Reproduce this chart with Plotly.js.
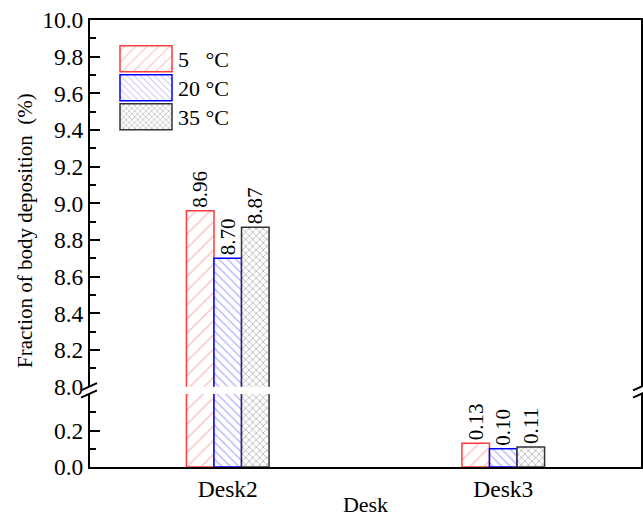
<!DOCTYPE html>
<html>
<head>
<meta charset="utf-8">
<script src="https://cdn.plot.ly/plotly-3.0.1.min.js"></script>
<style>
  html, body { margin: 0; padding: 0; background: #fff; }
  #chart { width: 643px; height: 517px; }
</style>
</head>
<body>
<div id="chart"></div>
<script>
// Fraction of body deposition per desk at three air temperatures
const desks = ['Desk2', 'Desk3'];
const seriesNames = ['5\u00a0\u00a0\u00a0°C', '20 °C', '35 °C'];
const temp5 = [8.96, 0.13];
const temp20 = [8.70, 0.10];
const temp35 = [8.87, 0.11];

const lowerTicks = [0, 0.2];
const lowerMinor = [0.1, 0.3];

const FONT = 'Liberation Serif, Times New Roman, serif';

// visual style per series (outline + hatch)
const styles = [
  { line: '#ff3b3b', fg: '#ffb8b8', shape: '/', size: 10, solidity: 0.12 },
  { line: '#0000ff', fg: '#b0b0ff', shape: '\\', size: 6, solidity: 0.2 },
  { line: '#333333', fg: '#8a8a8a', shape: 'x', size: 5, solidity: 0.2 }
];
const values = [temp5, temp20, temp35];

// broken axis: lower segment 0–0.4, upper segment 8–10
const BREAK_LOW = 0.4;
const BREAK_HIGH = 8;

const traces = [];
values.forEach((vals, i) => {
  const st = styles[i];
  const marker = {
    color: '#ffffff',
    line: { color: st.line, width: 1.5 },
    pattern: { shape: st.shape, fgcolor: st.fg, bgcolor: '#ffffff', size: st.size, solidity: st.solidity }
  };
  // lower segment
  traces.push({
    type: 'bar', x: desks, y: vals, xaxis: 'x', yaxis: 'y',
    name: seriesNames[i], showlegend: false, legendgroup: 'g' + i,
    marker: marker,
    text: vals.map(v => v <= BREAK_LOW ? v.toFixed(2) : ''),
    textposition: 'outside', textangle: -90, constraintext: 'none', cliponaxis: false,
    textfont: { family: FONT, size: 21, color: '#000' },
    hoverinfo: 'skip'
  });
  // upper segment
  traces.push({
    type: 'bar', x: desks, y: vals, xaxis: 'x2', yaxis: 'y2',
    name: seriesNames[i], showlegend: true, legendgroup: 'g' + i,
    marker: marker,
    text: vals.map(v => v >= BREAK_HIGH ? v.toFixed(2) : ''),
    textposition: 'outside', textangle: -90, constraintext: 'none', cliponaxis: false,
    textfont: { family: FONT, size: 21, color: '#000' },
    hoverinfo: 'skip'
  });
});

// plot area in pixels: left 90, right 641, top 20, bottom 467
const L = 90, R = 641, T = 20, B = 467;
const px = x => (x - L) / (R - L);
const py = y => (B - y) / (B - T);

const lowerTop = py(394);
const upperBottom = py(386.7);

function slash(cx, cy) {
  return {
    type: 'line', xref: 'paper', yref: 'paper', layer: 'above',
    x0: px(cx - 8), y0: py(cy + 3.6), x1: px(cx + 8), y1: py(cy - 3.6),
    line: { color: '#000', width: 2 }
  };
}

const axisCommon = {
  showline: true, linecolor: '#000', linewidth: 2,
  showgrid: false, zeroline: false,
  tickfont: { family: FONT, size: 23.5, color: '#000' }
};

const layout = {
  width: 643, height: 517,
  margin: { l: L, r: 643 - R, t: T, b: 517 - B },
  paper_bgcolor: '#fff', plot_bgcolor: '#fff',
  font: { family: FONT, color: '#000' },
  barmode: 'group', bargap: 0.7, bargroupgap: 0,
  showlegend: true,
  legend: {
    x: px(114), y: py(38), xanchor: 'left', yanchor: 'top',
    bgcolor: 'rgba(0,0,0,0)', borderwidth: 0,
    font: { family: FONT, size: 22, color: '#000' },
    itemwidth: 54, tracegroupgap: 0, traceorder: 'normal'
  },
  xaxis: Object.assign({}, axisCommon, {
    domain: [0, 1], anchor: 'y', range: [-0.5, 1.5],
    ticks: '', automargin: false,
    title: { text: 'Desk', font: { family: FONT, size: 22, color: '#000' }, standoff: 9 }
  }),
  xaxis2: Object.assign({}, axisCommon, {
    domain: [0, 1], anchor: 'y2', matches: 'x', side: 'top',
    ticks: '', showticklabels: false
  }),
  yaxis: Object.assign({}, axisCommon, {
    domain: [0, lowerTop], anchor: 'x', range: [0, BREAK_LOW],
    mirror: true, ticks: 'inside', ticklen: 10, tickwidth: 2, tickcolor: '#000',
    tickvals: lowerTicks, ticktext: lowerTicks.map(v => v.toFixed(1)),
    minor: { tickvals: lowerMinor, ticks: 'inside', ticklen: 6, tickwidth: 2, tickcolor: '#000' },
    automargin: false
  }),
  yaxis2: Object.assign({}, axisCommon, {
    domain: [upperBottom, 1], anchor: 'x2', range: [BREAK_HIGH, 10],
    mirror: true, ticks: 'inside', ticklen: 10, tickwidth: 2, tickcolor: '#000',
    tick0: 8, dtick: 0.2, tickformat: '.1f',
    minor: { dtick: 0.1, ticks: 'inside', ticklen: 6, tickwidth: 2, tickcolor: '#000' },
    automargin: false
  }),
  annotations: [{
    text: 'Fraction of body deposition\u00a0\u00a0(%)',
    xref: 'paper', yref: 'paper', x: px(25), y: py(231),
    xanchor: 'center', yanchor: 'middle', textangle: -90, showarrow: false,
    font: { family: FONT, size: 21, color: '#000' }
  }],
  shapes: [
    // white mask over the axis lines inside the break
    { type: 'rect', xref: 'paper', yref: 'paper', layer: 'above',
      x0: px(86), x1: px(92), y0: upperBottom, y1: lowerTop,
      fillcolor: '#fff', line: { width: 0 } },
    slash(89, 386.7), slash(89, 394),
    slash(641, 386.7), slash(641, 394)
  ]
};

const LEGEND_ROW = 29;

Plotly.newPlot('chart', traces, layout, { displayModeBar: false, staticPlot: true }).then(gd => {
  // wide legend swatches on a tighter row pitch
  gd.querySelectorAll('.legend .legendpoints path').forEach(p => {
    p.setAttribute('d', 'M26,13H-26V-13H26Z');
  });
  const rows = gd.querySelectorAll('.legend .traces');
  let x0 = null, y0 = null;
  rows.forEach((g, i) => {
    const m = /translate\(\s*([-\d.]+)[ ,]+([-\d.]+)\s*\)/.exec(g.getAttribute('transform') || '');
    if (!m) return;
    if (x0 === null) { x0 = +m[1]; y0 = +m[2]; }
    g.setAttribute('transform', 'translate(' + x0 + ',' + (y0 + i * LEGEND_ROW) + ')');
  });
});
</script>
</body>
</html>
